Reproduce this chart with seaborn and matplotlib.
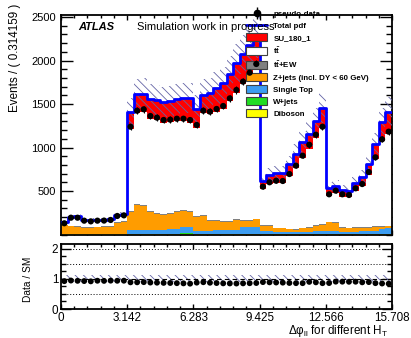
import numpy as np
import pandas as pd
import matplotlib
matplotlib.use("Agg")
import matplotlib.pyplot as plt
from matplotlib.patches import Patch
from matplotlib.lines import Line2D
from matplotlib.ticker import MultipleLocator, FixedLocator, NullFormatter
import seaborn as sns

sns.set_theme(style="ticks")
plt.rcParams["font.family"] = ["Liberation Sans", "DejaVu Sans"]
plt.rcParams["mathtext.fontset"] = "custom"
plt.rcParams["mathtext.rm"] = "Liberation Sans"
plt.rcParams["mathtext.it"] = "Liberation Sans:italic"
plt.rcParams["mathtext.bf"] = "Liberation Sans:bold"
plt.rcParams["hatch.linewidth"] = 0.6
plt.rcParams["axes.edgecolor"] = "black"
plt.rcParams["xtick.color"] = "black"
plt.rcParams["ytick.color"] = "black"
plt.rcParams["text.color"] = "black"

# ---- binning: 5 H_T slices of delta-phi(ll), 10 bins of pi/10 each ----
n_bins = 50
bin_width = np.pi / 10
edges = np.arange(n_bins + 1) * bin_width
bin_list = [float(e) for e in edges]
centers = edges[:-1] + bin_width / 2

# ---- expected yields per bin ----
signal = [12, 15, 15, 13, 12, 12, 13, 13, 16, 17,
          195, 218, 210, 225, 229, 237, 244, 256, 268, 283,
          214, 212, 243, 267, 293, 315, 339, 343, 350, 350,
          93, 105, 112, 118, 137, 159, 175, 170, 190, 230,
          95, 85, 75, 75, 85, 100, 120, 170, 220, 255]
ttbar = [16, 89, 99, 78, 72, 73, 66, 72, 73, 68,
         939, 1046, 1073, 1062, 1069, 1054, 1046, 1031, 1019, 1016,
         1016, 1169, 1215, 1246, 1295, 1383, 1456, 1560, 1663, 1747,
         419, 469, 514, 508, 602, 702, 806, 897, 1002, 1103,
         295, 334, 348, 351, 420, 474, 599, 774, 979, 1054]
ttbar_ew = [3, 3, 3, 3, 3, 3, 3, 3, 3, 3,
            8, 8, 8, 8, 8, 8, 8, 8, 8, 8,
            8, 8, 8, 8, 8, 8, 8, 8, 8, 8,
            8, 8, 8, 8, 8, 8, 8, 8, 8, 8,
            8, 8, 8, 8, 8, 8, 8, 8, 8, 8]
zjets = [103, 92, 84, 72, 72, 76, 84, 84, 130, 141,
         210, 287, 276, 210, 184, 172, 176, 202, 184, 172,
         161, 172, 115, 107, 92, 92, 115, 69, 69, 85,
         63, 63, 41, 41, 30, 26, 39, 43, 65, 74,
         105, 95, 50, 40, 45, 40, 40, 40, 30, 20]
single_top = [3, 3, 3, 3, 3, 3, 3, 3, 3, 3,
              46, 46, 46, 46, 46, 46, 54, 54, 78, 78,
              38, 38, 38, 46, 46, 46, 46, 84, 84, 84,
              29, 29, 24, 24, 24, 24, 26, 26, 29, 29,
              29, 29, 24, 24, 24, 29, 34, 39, 54, 69]
wjets = [2, 2, 2, 2, 2, 2, 2, 2, 2, 2,
         4, 4, 4, 4, 4, 4, 4, 4, 10, 10,
         4, 4, 4, 4, 4, 4, 4, 4, 4, 4,
         4, 4, 4, 4, 4, 4, 4, 4, 4, 4,
         4, 4, 4, 4, 4, 4, 4, 4, 4, 4]
diboson = [1, 1, 1, 1, 1, 1, 1, 1, 1, 1,
           2, 2, 2, 2, 2, 2, 2, 2, 2, 2,
           2, 2, 2, 2, 2, 2, 2, 2, 2, 2,
           2, 2, 2, 2, 2, 2, 2, 2, 2, 2,
           2, 2, 2, 2, 2, 2, 2, 2, 2, 2]

# absolute uncertainty on the total expectation
total_err = [18, 24, 24, 20, 20, 20, 20, 21, 26, 27,
             160, 182, 184, 176, 174, 172, 173, 176, 178, 178,
             160, 177, 179, 185, 191, 204, 217, 228, 240, 251,
             75, 82, 85, 85, 97, 111, 127, 138, 156, 174,
             65, 67, 62, 61, 71, 79, 97, 124, 156, 170]

# pseudo-data
data = [129, 193, 193, 159, 151, 159, 160, 167, 213, 220,
        1239, 1423, 1439, 1362, 1343, 1316, 1320, 1331, 1331, 1316,
        1259, 1423, 1412, 1443, 1477, 1565, 1661, 1757, 1860, 1960,
        550, 600, 618, 615, 695, 791, 906, 1032, 1147, 1239,
        462, 504, 462, 454, 531, 580, 718, 887, 1094, 1182]

x_tick_values = [0, np.pi, 2 * np.pi, 3 * np.pi, 4 * np.pi, 5 * np.pi]
x_tick_labels = ["0", "3.142", "6.283", "9.425", "12.566", "15.708"]

processes = ["SU_180_1", "ttbar", "ttbarEW", "Zjets", "SingleTop", "Wjets", "Diboson"]
yields = [signal, ttbar, ttbar_ew, zjets, single_top, wjets, diboson]
colors = ["#ff0000", "#ffffff", "#808080", "#ff9c00", "#3c9cf0", "#22dd22", "#ffff00"]
labels = ["SU_180_1", r"t$\mathbf{\bar{t}}$", r"t$\mathbf{\bar{t}}$+EW",
          "Z+jets (incl. DY < 60 GeV)", "Single Top", "W+jets", "Diboson"]

df = pd.concat(
    [pd.DataFrame({"x": centers, "w": np.array(y, dtype=float), "proc": p})
     for p, y in zip(processes, yields)],
    ignore_index=True,
)

total = np.sum(np.array(yields, dtype=float), axis=0)
err = np.array(total_err, dtype=float)
data_arr = np.array(data, dtype=float)

W, H = 411, 338
fig = plt.figure(figsize=(W / 100, H / 100), dpi=100)
left, right = 61 / W, 392 / W
ax = fig.add_axes([left, 1 - 234.5 / H, right - left, (234.5 - 15) / H])
axr = fig.add_axes([left, 1 - 309 / H, right - left, (309 - 244) / H])

hatch_col = "#6464a6"

# ---- main panel ----
sns.histplot(data=df, x="x", weights="w", hue="proc", hue_order=processes,
             palette=dict(zip(processes, colors)), bins=bin_list, multiple="stack",
             element="step", fill=True, alpha=1, linewidth=0, legend=False, ax=ax)
ax.stairs(total + err, edges, baseline=total - err, fill=True, facecolor="none",
          edgecolor=hatch_col, hatch="\\\\\\\\", linewidth=0, zorder=3)
df_total = pd.DataFrame({"x": centers, "w": total})
sns.histplot(data=df_total, x="x", weights="w", bins=bin_list, element="step", fill=False,
             color="#0000ff", linewidth=2, ax=ax, zorder=4)
ax.errorbar(centers, data_arr, yerr=np.sqrt(data_arr), fmt="none", ecolor="black",
            elinewidth=0.8, zorder=5)
sns.scatterplot(x=centers, y=data_arr, color="black", s=20, edgecolor="none",
                ax=ax, zorder=6)

ax.set_xlim(0, 5 * np.pi)
ax.set_ylim(0, 2523)
ax.set_xlabel("")
ax.set_ylabel("")
ax.xaxis.set_major_locator(FixedLocator(x_tick_values))
ax.xaxis.set_minor_locator(MultipleLocator(np.pi / 5))
ax.xaxis.set_major_formatter(NullFormatter())
ax.yaxis.set_major_locator(FixedLocator([500, 1000, 1500, 2000, 2500]))
ax.yaxis.set_minor_locator(MultipleLocator(100))
ax.tick_params(which="both", direction="in", top=True, right=True, labelsize=8)
ax.tick_params(axis="y", which="major", length=8.4, width=1)
ax.tick_params(axis="y", which="minor", length=4.2, width=1)
ax.tick_params(axis="x", which="major", length=3.6, width=1)
ax.tick_params(axis="x", which="minor", length=2, width=1)
for s in ax.spines.values():
    s.set_linewidth(1.3)
    s.set_visible(True)

# legend
data_handle = (Line2D([], [], marker="|", markersize=9, color="black", linestyle="none"),
               Line2D([], [], marker="o", markersize=4.5, color="black", linestyle="none"))
total_handle = Line2D([], [], color="#0000ff", lw=2)
patch_handles = [Patch(facecolor=c, edgecolor="#404040", linewidth=0.8) for c in colors]
leg = ax.legend([data_handle, total_handle] + patch_handles,
                ["pseudo-data", "Total pdf"] + labels,
                loc="upper left", bbox_to_anchor=(246 / W, 1 - 9.5 / H),
                bbox_transform=fig.transFigure, frameon=False, borderpad=0,
                borderaxespad=0, handlelength=2.7, handleheight=1.18,
                handletextpad=0.76, labelspacing=0.41,
                prop={"family": "Liberation Sans", "weight": "bold", "size": 5.7})

fig.text(78 / W, 1 - 27 / H, "ATLAS", weight="bold", style="italic", size=8, va="center")
fig.text(137 / W, 1 - 27 / H, "Simulation work in progress", size=8, va="center")
fig.text(15 / W, 1 - 4 / H, "Events / ( 0.314159 )", rotation=90, ha="center",
         va="top", size=8.4)

# ---- ratio panel ----
ratio = data_arr / total
axr.stairs(1 + err / total, edges, baseline=1 - err / total, fill=True, facecolor="none",
           edgecolor=hatch_col, hatch="\\\\\\\\", linewidth=0, zorder=2)
for yv in (0.5, 1.5, 2.0):
    axr.axhline(yv, color="black", lw=0.7, ls=(0, (1, 2)), zorder=1)
axr.axhline(1.0, color="black", lw=0.8, ls=(0, (4, 3)), zorder=3)
sns.scatterplot(x=centers, y=ratio, color="black", s=18, edgecolor="none",
                ax=axr, zorder=5)
axr.set_xlim(0, 5 * np.pi)
axr.set_ylim(0, 2.15)
axr.set_xlabel("")
axr.set_ylabel("")
axr.xaxis.set_major_locator(FixedLocator(x_tick_values))
axr.set_xticklabels(x_tick_labels)
axr.xaxis.set_minor_locator(MultipleLocator(np.pi / 5))
axr.yaxis.set_major_locator(FixedLocator([0, 1, 2]))
axr.yaxis.set_minor_locator(MultipleLocator(0.25))
axr.tick_params(which="both", direction="in", top=True, right=True, labelsize=8.4)
axr.tick_params(axis="y", which="major", length=7.5, width=1, pad=2)
axr.tick_params(axis="y", which="minor", length=3.8, width=1)
axr.tick_params(axis="x", which="major", length=3.6, width=1, pad=2.5)
axr.tick_params(axis="x", which="minor", length=2, width=1)
for s in axr.spines.values():
    s.set_linewidth(1.3)
    s.set_visible(True)

fig.text(28 / W, 1 - 279 / H, "Data / SM", rotation=90, ha="center", va="center", size=7.3)
fig.text(388 / W, 1 - 331 / H, r"Δφ$_{\mathregular{ll}}$ for different H$_{\mathregular{T}}$",
         ha="right", va="center", size=8.4)

fig.savefig("out.png", dpi=100)
